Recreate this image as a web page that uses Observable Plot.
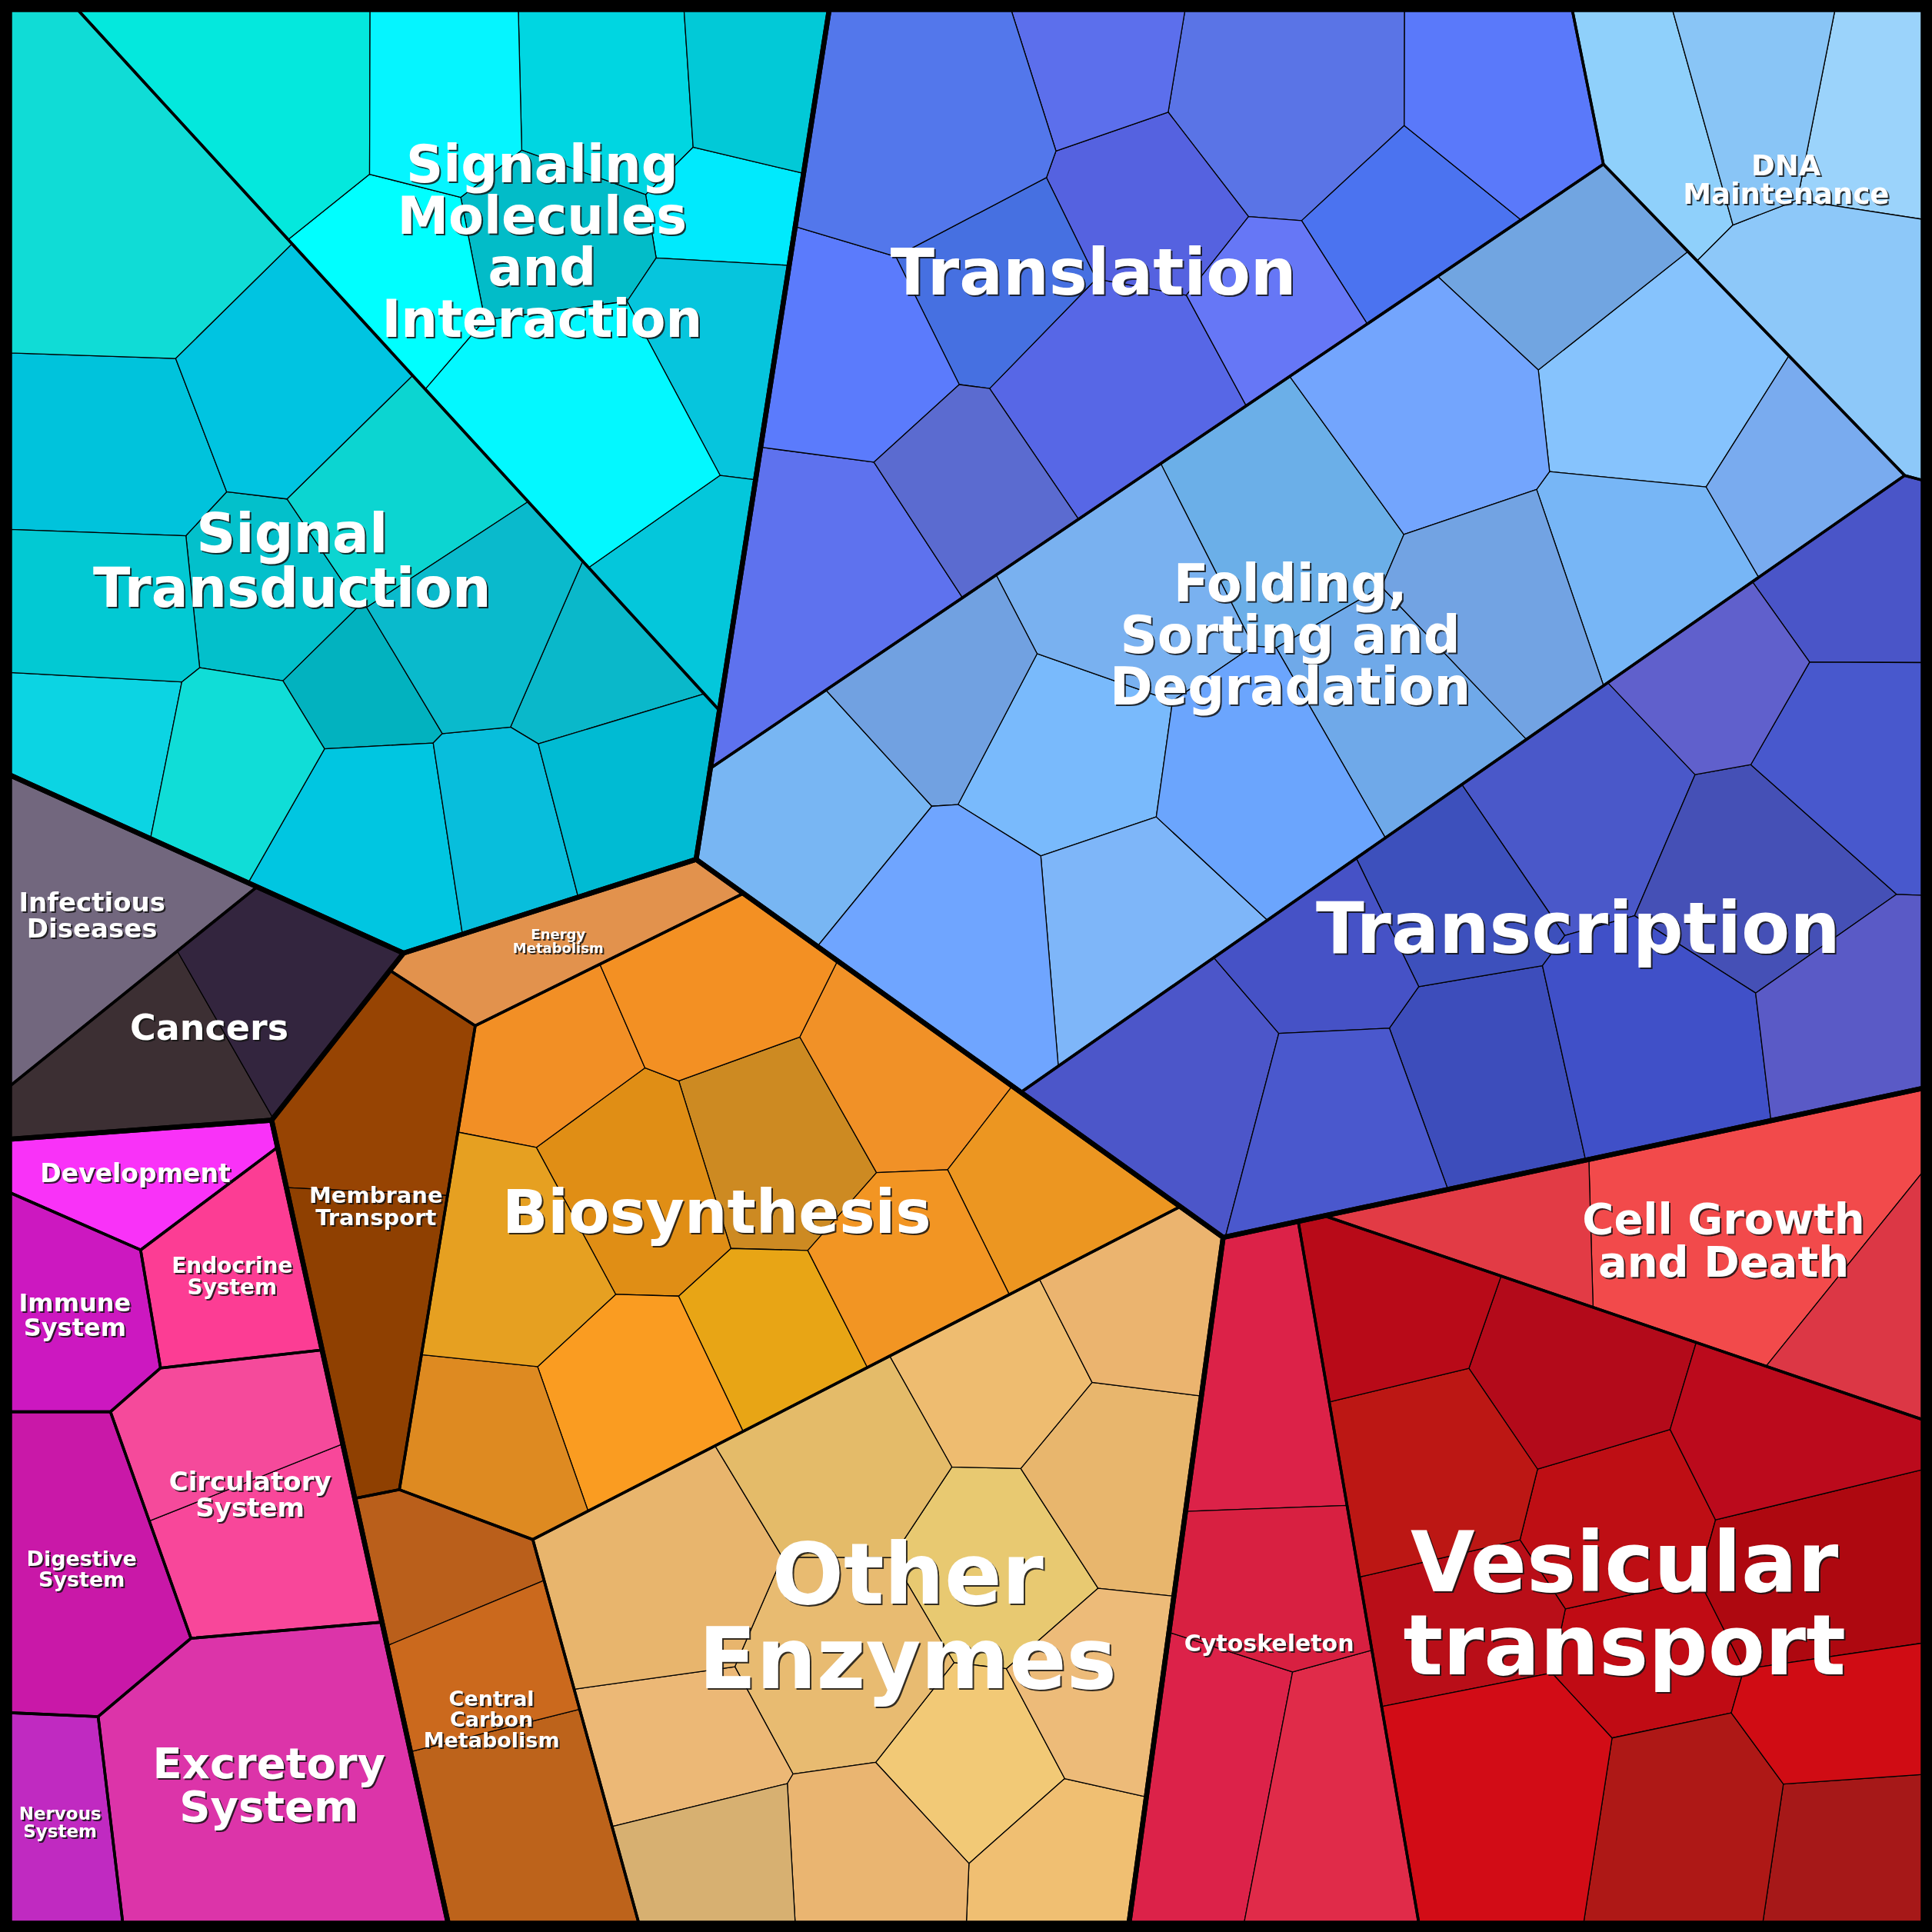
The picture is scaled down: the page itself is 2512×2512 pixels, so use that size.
<!DOCTYPE html>
<html><head><meta charset="utf-8">
<script src="https://cdn.jsdelivr.net/npm/d3@7"></script>
<script src="https://cdn.jsdelivr.net/npm/@observablehq/plot@0.6"></script>
<style>html,body{margin:0;padding:0;background:#fff}</style>
</head><body><div id="chart"></div>
<script>
// ---------------- DATA ----------------
const superGroups = ["Environmental Information Processing","Genetic Information Processing","Cellular Processes","Metabolism","Human Diseases","Organismal Systems"];
const categories = ["Signal Transduction","Signaling Molecules and Interaction","Translation","DNA Maintenance","Folding, Sorting and Degradation","Transcription","Cell Growth and Death","Vesicular transport","Cytoskeleton","Energy Metabolism","Biosynthesis","Other Enzymes","Membrane Transport","Central Carbon Metabolism","Infectious Diseases","Cancers","Development","Immune System","Endocrine System","Circulatory System","Digestive System","Excretory System","Nervous System"];
const categoryGroup = [0,0,1,1,1,1,2,2,2,3,3,3,3,3,4,4,5,5,5,5,5,5,5];
const categoryValue = [259,174,234,67,332,227,66,225,84,15,185,221,41,49,25,35,14,17,17,37,28,57,14];
const labelText = ["Signal\nTransduction","Signaling\nMolecules\nand\nInteraction","Translation","DNA\nMaintenance","Folding,\nSorting and\nDegradation","Transcription","Cell Growth\nand Death","Vesicular\ntransport","Cytoskeleton","Energy\nMetabolism","Biosynthesis","Other\nEnzymes","Membrane\nTransport","Central\nCarbon\nMetabolism","Infectious\nDiseases","Cancers","Development","Immune\nSystem","Endocrine\nSystem","Circulatory\nSystem","Digestive\nSystem","Excretory\nSystem","Nervous\nSystem"];
const leafValues = [
  [7,12,15,16,18,9,11,18,11,14,15,13,35,13],
  [9,15,14,15,17,12,25,12,28,16],
  [18,20,12,12,11,22,9,10,16,16,12,25],
  [14,13,22,14],
  [24,20,18,24,20,22,18,22,16,24,16,14,26,26,20],
  [22,20,16,22,24,14,26,14,18,20,14,18],
  [40,13,13],
  [14,16,22,16,18,14,20,18,22,16,14,30],
  [22,22,22,18],
  [1],
  [18,14,18,16,18,14,16,16,18,16,20],
  [16,13,20,16,14,14,12,24,14,14,18,14,12],
  [20,20],
  [24,12,14],
  [1],
  [18,17],
  [1],[1],[1],
  [20,17],
  [1],[1],[1]
];
const leafColors = [
  ["#02B2BF","#03C0CB","#0CD5D1","#00C6E1","#00C3DC","#0AB8CA","#0CD4E3","#00C4E1","#08BEDC","#02C9D3","#0ABACC","#10DDD7","#10DCD6","#00BBD3"],
  ["#00EAFD","#02BCC8","#06C5DD","#00FFFF","#00D6E1","#04C7DB","#04E8DD","#02C9D7","#03F8FF","#05F5FF"],
  ["#5767E6","#5A74E6","#5562E0","#4670E1","#4B73F0","#5E72EE","#5C6FEC","#6677F6","#5B7BFC","#5A79FA","#5B6BD0","#5377EB"],
  ["#8FD0FB","#9BD3FB","#8DC8F9","#89C5F6"],
  ["#6BAFE8","#6FA9E9","#79BAFC","#86C3FD","#7EB6F9","#79B1F0","#77B6F6","#78B6F3","#71A5E1","#6BA5FD","#71A1E1","#79ABEF","#6FA5FF","#73A5FD","#72A3E3"],
  ["#4A58C9","#3D4DBB","#3D50BC","#4550B6","#4C56C9","#4A55C8","#4050C8","#4652C6","#4858CD","#4A58CD","#6060CC","#5A5AC6"],
  ["#F24A4B","#E23B45","#DC3745"],
  ["#C00B14","#BE0E14","#AE0810","#B90E18","#B30A1A","#A61818","#BC1714","#BB0A1C","#AE1816","#B80A18","#D00C14","#D20C16"],
  ["#DC2249","#DC2248","#E02B49","#D82041"],
  ["#E2924D"],
  ["#CD8A22","#E8A515","#E08E15","#F19127","#FA9C21","#F28F25","#EC9621","#DE8A21","#F39023","#F29523","#E6A021"],
  ["#E8C971","#F2C976","#E8BB71","#E8B66D","#ECB876","#EEBC70","#F0BF72","#E8B56D","#EBB46F","#EAB571","#E4BB69","#EDBB79","#D7B071"],
  ["#974403","#8F4001"],
  ["#BD631B","#BA5F1B","#CB691D"],
  ["#72677E"],
  ["#3C2F33","#33253E"],
  ["#F932F8"],["#CC18C0"],["#FC3D94"],
  ["#F8479A","#F54A9B"],
  ["#C918A8"],["#DC34A9"],["#C02AC1"]
];

// ---------------- LAYOUT / STYLE ----------------
const layout = {
  size: 2488,
  // initial site hints for the voronoi treemap (fractions of the frame)
  groupHint: [[0.208,0.217],[0.706,0.295],[0.816,0.811],[0.379,0.751],[0.075,0.511],[0.097,0.813]],
  seedHint: [[0.140,0.300],[0.330,0.126],[0.561,0.142],[0.928,0.068],[0.676,0.312],[0.810,0.504],[0.918,0.619],[0.855,0.804],[0.663,0.837],[0.281,0.486],[0.357,0.640],[0.466,0.852],[0.198,0.614],[0.256,0.910],[0.046,0.475],[0.096,0.537],[0.070,0.605],[0.038,0.678],[0.115,0.665],[0.128,0.781],[0.038,0.813],[0.141,0.935],[0.032,0.948]],
  labelSize: [71,67,84,37,67,92,56,108,30,18,78,110,29,27,34,46,33,32,28,34,27,56,23]
};
const S = layout.size;

// ---------------- VORONOI TREEMAP (power diagram) ----------------
function clipHalf(poly, a, b, c) {
  const out = [];
  const n = poly.length;
  for (let i = 0; i < n; i++) {
    const P = poly[i], Q = poly[(i + 1) % n];
    const fp = a * P[0] + b * P[1] - c, fq = a * Q[0] + b * Q[1] - c;
    if (fp <= 0) out.push(P);
    if ((fp < 0 && fq > 0) || (fp > 0 && fq < 0)) {
      const t = fp / (fp - fq);
      out.push([P[0] + t * (Q[0] - P[0]), P[1] + t * (Q[1] - P[1])]);
    }
  }
  return out;
}
function cellsOf(poly, sites) {
  return sites.map((s, i) => {
    let cell = poly;
    for (let j = 0; j < sites.length; j++) {
      if (j === i) continue;
      const t = sites[j];
      const a = 2 * (t.x - s.x), b = 2 * (t.y - s.y);
      const c = (t.x * t.x + t.y * t.y - t.w) - (s.x * s.x + s.y * s.y - s.w);
      cell = clipHalf(cell, a, b, c);
      if (cell.length < 3) return [];
    }
    return cell;
  });
}
function fixOver(sites) {
  let fixed, guard = 0;
  do {
    fixed = 0;
    for (let i = 0; i < sites.length; i++) for (let j = i + 1; j < sites.length; j++) {
      const A = sites[i], B = sites[j];
      const d2 = (A.x - B.x) ** 2 + (A.y - B.y) ** 2;
      const h = A.w >= B.w ? A : B, l = h === A ? B : A;
      const over = h.w - l.w - d2;
      if (over > 0) { h.w -= over + 1e-6; fixed++; }
    }
  } while (fixed && ++guard < 60);
}
const areaOf = c => c.length > 2 ? Math.abs(d3.polygonArea(c)) : 0;
function pullInside(poly, p) {
  const c = d3.polygonCentroid(poly);
  let q = p.slice(), k = 0;
  while (!d3.polygonContains(poly, q) && k++ < 40) q = [c[0] + (q[0] - c[0]) * 0.8, c[1] + (q[1] - c[1]) * 0.8];
  return q;
}
function voronoiMap(poly, sites, moveSites, maxIter = 900) {
  if (sites.length === 1) return [poly];
  const total = areaOf(poly);
  const sumV = d3.sum(sites, s => s.value);
  sites.forEach(s => { s.target = total * s.value / sumV; s.w = total / sites.length / 2; });
  let cells, f = 0.2, prevErr = Infinity;
  for (let it = 0; it < maxIter; it++) {
    cells = cellsOf(poly, sites);
    if (moveSites) {
      sites.forEach((s, i) => {
        if (cells[i].length > 2) {
          const [cx, cy] = d3.polygonCentroid(cells[i]);
          s.x += (cx - s.x) * 0.9; s.y += (cy - s.y) * 0.9;
        }
      });
      fixOver(sites);
      cells = cellsOf(poly, sites);
    }
    let err = 0;
    sites.forEach((s, i) => {
      const A = areaOf(cells[i]);
      err += Math.abs(A - s.target);
      let r = A > 0 ? s.target / A : 2;
      r = Math.max(1 - f, Math.min(1 + f, r));
      s.w = Math.max(s.w * r, 1e-6);
    });
    fixOver(sites);
    err = err / total / 2;
    if (err > prevErr) f = Math.max(0.02, f * 0.9);
    prevErr = err;
    if (err < 0.002) break;
  }
  return cellsOf(poly, sites);
}

// level 1: super groups
const root = [[0, 0], [S, 0], [S, S], [0, S]];
const groupSites = superGroups.map((g, gi) => {
  const idx = categories.map((_, i) => i).filter(i => categoryGroup[i] === gi);
  const v = d3.sum(idx, i => categoryValue[i]);
  return {x: layout.groupHint[gi][0] * S, y: layout.groupHint[gi][1] * S, value: v, idx};
});
const groupCells = voronoiMap(root, groupSites, false);

// level 2 + 3
const catCells = new Array(categories.length);
const leafPolys = [];
groupSites.forEach((g, gi) => {
  const gpoly = groupCells[gi];
  const sites = g.idx.map(i => {
    const p = pullInside(gpoly, [layout.seedHint[i][0] * S, layout.seedHint[i][1] * S]);
    return {x: p[0], y: p[1], value: categoryValue[i], i};
  });
  const cells = voronoiMap(gpoly, sites, false);
  sites.forEach((s, k) => { catCells[s.i] = cells[k]; });
});
categories.forEach((name, i) => {
  const cpoly = catCells[i];
  const vals = leafValues[i], cols = leafColors[i];
  const n = vals.length;
  const C = d3.polygonCentroid(cpoly);
  const R = Math.sqrt(areaOf(cpoly) / Math.PI) * 0.75;
  const sites = vals.map((v, k) => {
    const ang = k * 2.39996323 + 0.7 + i;
    const r = R * Math.sqrt((k + 0.5) / n);
    const p = pullInside(cpoly, [C[0] + r * Math.cos(ang), C[1] + r * Math.sin(ang)]);
    return {x: p[0], y: p[1], value: v};
  });
  const cells = voronoiMap(cpoly, sites, true);
  cells.forEach((c, k) => leafPolys.push({id: `${i}-${k}`, color: cols[k], poly: c}));
});

// flatten polygons into rows for Plot.line
function rowsOf(list) {
  const rows = [];
  list.forEach(d => d.poly.forEach(([x, y]) => rows.push({id: d.id, color: d.color, x, y})));
  return rows;
}
const leafRows = rowsOf(leafPolys.filter(d => d.poly.length > 2));
const catRows = rowsOf(catCells.map((p, i) => ({id: "c" + i, poly: p})));
const groupRows = rowsOf(groupCells.map((p, i) => ({id: "g" + i, poly: p})));
const labels = categories.map((name, i) => {
  const c = d3.polygonCentroid(catCells[i]);
  return {x: c[0], y: c[1], text: labelText[i], size: layout.labelSize[i]};
});

const chart = Plot.plot({
  width: 2512, height: 2512, margin: 0,
  x: {domain: [0, S], range: [12, 2500], axis: null},
  y: {domain: [0, S], range: [12, 2500], axis: null},
  color: {type: "identity"},
  style: {background: "white"},
  marks: [
    Plot.line(leafRows, {x: "x", y: "y", z: "id", fill: "color", stroke: "#000", strokeWidth: 1.3, curve: "linear-closed"}),
    Plot.line(catRows, {x: "x", y: "y", z: "id", fill: "none", stroke: "#000", strokeWidth: 3.6, curve: "linear-closed"}),
    Plot.line(groupRows, {x: "x", y: "y", z: "id", fill: "none", stroke: "#000", strokeWidth: 6.5, curve: "linear-closed"}),
    Plot.frame({stroke: "#000", strokeWidth: 24}),
    Plot.text(labels, {x: "x", y: "y", text: "text", fontSize: "size", fill: "#ffffff", fontFamily: "DejaVu Sans", fontWeight: "bold", lineHeight: 1, textAnchor: "middle"})
  ]
});
d3.select(chart).selectAll('g[aria-label="text"]').style("filter", "drop-shadow(2.5px 2.5px 0px rgba(20,20,20,0.85))");
document.getElementById("chart").appendChild(chart);
</script></body></html>
